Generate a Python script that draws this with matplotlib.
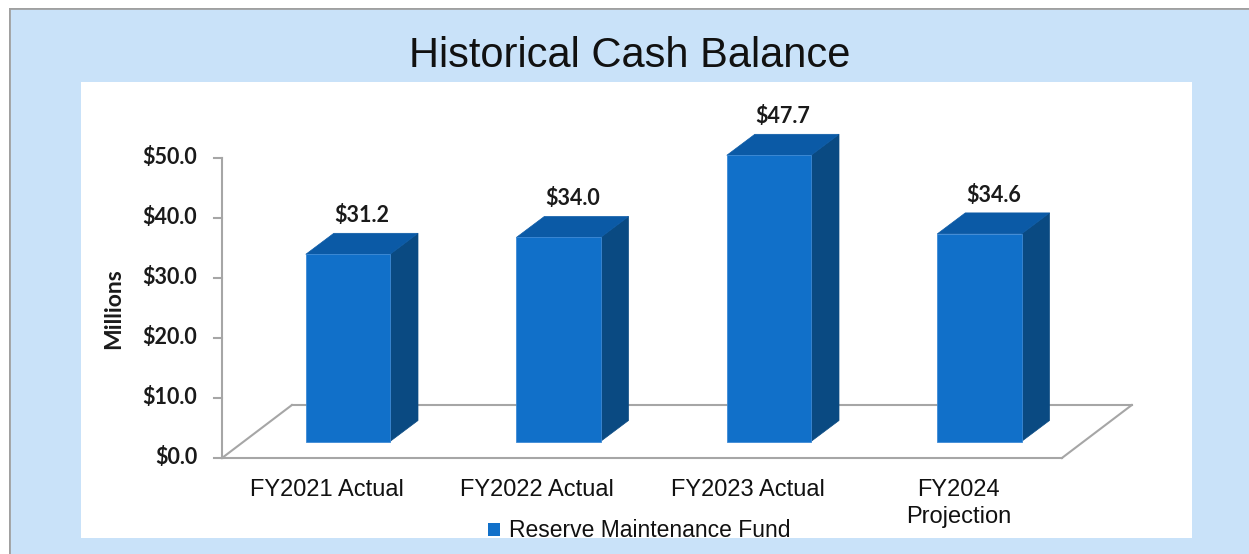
import matplotlib
matplotlib.use("Agg")
import matplotlib.pyplot as plt
from matplotlib.patches import Polygon, Rectangle
from matplotlib import font_manager

categories = ["FY2021 Actual", "FY2022 Actual", "FY2023 Actual", "FY2024\nProjection"]
values = [31.2, 34.0, 47.7, 34.6]
value_labels = ["$31.2", "$34.0", "$47.7", "$34.6"]
yticks = [0, 10, 20, 30, 40, 50]
ytick_labels = ["$0.0", "$10.0", "$20.0", "$30.0", "$40.0", "$50.0"]
title = "Historical Cash Balance"
ylabel = "Millions"
series_name = "Reserve Maintenance Fund"

avail = {f.name for f in font_manager.fontManager.ttflist}
sansf = [f for f in ["Liberation Sans", "DejaVu Sans"] if f in avail] or ["DejaVu Sans"]
boldf = [f for f in ["Lato", "Open Sans", "DejaVu Sans"] if f in avail] or ["DejaVu Sans"]

W, H = 1249, 554
fig = plt.figure(figsize=(W / 100, H / 100), dpi=100)
ax = fig.add_axes([0, 0, 1, 1])
# data mapping: category unit = 210.5 px, value unit = 6 px
px_cat = 210.5
x0px = 347.9
px_val = 6.0
y0px = 458.0
ax.set_xlim(-x0px / px_cat, (W - x0px) / px_cat)
ax.set_ylim((y0px - H) / px_val, y0px / px_val)
ax.axis("off")


def fx(px):
    return px / W


def fy(py):
    return 1 - py / H


# backgrounds
bg = "#C9E2F9"
ax.add_patch(Rectangle((0, 0), 1, 1, transform=ax.transAxes, facecolor=bg, edgecolor="none", zorder=0))
ax.add_patch(Rectangle((fx(9), -0.1), 1.2, 1.1 - 8 / H, transform=ax.transAxes, facecolor="none",
                       edgecolor="#A0A0A0", lw=2, zorder=1))
ax.add_patch(Rectangle((0, 0), fx(9), 1, transform=ax.transAxes, facecolor="white", edgecolor="none", zorder=1))
ax.add_patch(Rectangle((0, fy(8)), 1, 8 / H, transform=ax.transAxes, facecolor="white", edgecolor="none", zorder=1))
ax.add_patch(Rectangle((fx(81), fy(538)), (1192 - 81) / W, (538 - 82) / H, transform=ax.transAxes,
                       facecolor="white", edgecolor="none", zorder=1))

# floor geometry (in data units)
fl_left, fl_right = -0.598, 3.392
fdx, fdy = 0.332, 8.83
grey = "#A6A6A6"
ax.plot([fl_left + fdx, fl_right + fdx], [fdy, fdy], color=grey, lw=1.5, zorder=2)
ax.plot([fl_right, fl_right + fdx], [0, fdy], color=grey, lw=1.5, zorder=2)
ax.plot([fl_left, fl_left + fdx], [0, fdy], color=grey, lw=1.5, zorder=2)
ax.plot([fl_left, fl_right], [0, 0], color=grey, lw=1.5, zorder=2)

# y axis
ax.plot([fl_left, fl_left], [0, yticks[-1]], color=grey, lw=1.5, zorder=2)
tick_len = 8 / px_cat
for t, lab in zip(yticks, ytick_labels):
    ax.plot([fl_left - tick_len, fl_left], [t, t], color=grey, lw=1.5, zorder=2)
    ax.text(fl_left - 25 / px_cat, t, lab, ha="right", va="center", fontsize=15.5,
            fontweight="bold", family=boldf, color="#1a1a1a", zorder=5)
ax.text((114 - x0px) / px_cat, (y0px - 309) / px_val, ylabel, rotation=90, ha="center", va="center",
        fontsize=16.5, fontweight="bold", family=boldf, color="#1a1a1a", zorder=5)

# 3D bars
front_c = "#1170C9"
top_c = "#0B5AA6"
side_c = "#0A4A82"
hw = 0.2
base = 2.75
bdx, bdy = 0.133, 3.5
for i, v in enumerate(values):
    l, r = i - hw, i + hw
    b, t = base, base + v
    side = Polygon([(r, b), (r + bdx, b + bdy), (r + bdx, t + bdy), (r, t)], closed=True,
                   facecolor=side_c, edgecolor=side_c, lw=0.5, zorder=3)
    top = Polygon([(l, t), (r, t), (r + bdx, t + bdy), (l + bdx, t + bdy)], closed=True,
                  facecolor=top_c, edgecolor=top_c, lw=0.5, zorder=3)
    front = Polygon([(l, b), (r, b), (r, t), (l, t)], closed=True,
                    facecolor=front_c, edgecolor="#3d8ad6", lw=0.6, zorder=4)
    for p in (side, top, front):
        ax.add_patch(p)
    ax.text(i + bdx / 2, t + bdy + 11 / px_val, value_labels[i], ha="center", va="baseline",
            fontsize=15.5, fontweight="bold", family=boldf, color="#1a1a1a", zorder=5)

# category labels (each line placed on its own baseline)
for i, c in enumerate(categories):
    for k, line in enumerate(c.split("\n")):
        ax.text(i - 0.1, (y0px - 496 - 27 * k) / px_val, line, ha="center", va="baseline",
                fontsize=17, family=sansf, color="#111111", zorder=5)

# legend
ax.add_patch(Rectangle((fx(488), fy(536)), 12 / W, 13 / H, transform=ax.transAxes,
                       facecolor=front_c, edgecolor="none", zorder=5))
ax.text(fx(509), fy(537), series_name, transform=ax.transAxes, ha="left", va="baseline",
        fontsize=16.5, family=sansf, color="#111111", zorder=5)

# title
ax.text(fx(630), fy(67), title, transform=ax.transAxes, ha="center", va="baseline",
        fontsize=30, family=sansf, color="#111111", zorder=5)

fig.savefig("out.png", dpi=100)
